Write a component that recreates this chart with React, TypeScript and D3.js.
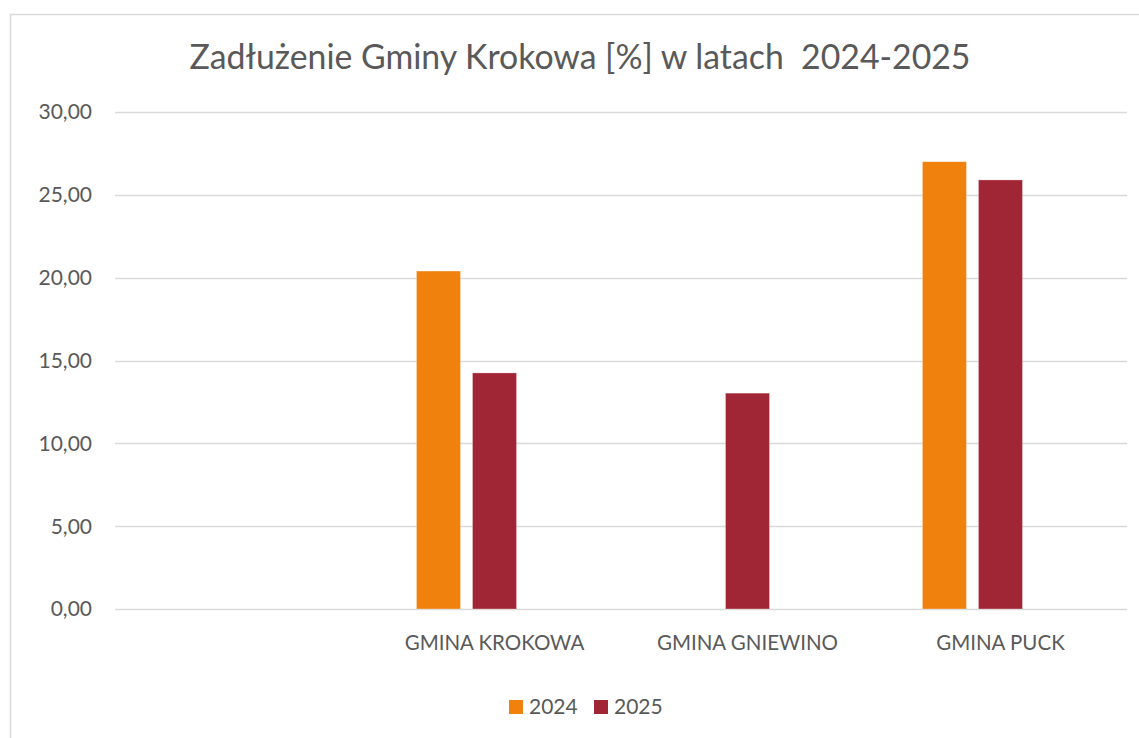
import React from 'react';
import * as d3 from 'd3';

// chart data
const categories = ['', 'GMINA KROKOWA', 'GMINA GNIEWINO', 'GMINA PUCK'];
const seriesNames = ['2024', '2025'];
const values2024: (number | null)[] = [null, 20.4, null, 27.0];
const values2025: (number | null)[] = [null, 14.25, 13.03, 25.9];
const seriesColors = ['#EF810C', '#A02636'];
const yTicks = [0, 5, 10, 15, 20, 25, 30];
const title = 'Zadłużenie Gminy Krokowa [%] w latach  2024-2025';

const W = 1139;
const H = 738;
const FONT = 'Lato, "Open Sans", sans-serif';
const TEXT = '#595959';
const GRID = '#d9d9d9';

export default function App() {
  const left = 115;
  const right = 1127;
  const top = 112;
  const bottom = 609;

  const x0 = d3.scaleBand<string>()
    .domain(categories)
    .range([left, right])
    .paddingInner(0.383)
    .paddingOuter(0.1917);

  // third slot is an empty series in the original workbook
  const x1 = d3.scaleBand<string>()
    .domain([...seriesNames, '_'])
    .range([0, x0.bandwidth()])
    .paddingInner(12 / 56);

  const y = d3.scaleLinear().domain([0, 30]).range([bottom, top]);
  const fmt = (v: number) => v.toFixed(2).replace('.', ',');

  const series = [values2024, values2025];

  return (
    <svg width={W} height={H} style={{ position: 'absolute', left: 0, top: 0, background: '#fff' }}>
      <rect x={10.5} y={14.5} width={W} height={H} fill="#fff" stroke={GRID} strokeWidth={1.5} />
      <text x={580} y={69} textAnchor="middle" fontFamily={FONT} fontSize={33.8} fill={TEXT} style={{ whiteSpace: 'pre' }}>{title}</text>

      {yTicks.map(t => (
        <g key={t}>
          <line x1={left} x2={right} y1={Math.round(y(t)) + 0.5} y2={Math.round(y(t)) + 0.5} stroke={GRID} strokeWidth={1.5} />
          <text x={92} y={y(t)} dy="0.35em" textAnchor="end" fontFamily={FONT} fontSize={21} fill={TEXT}>{fmt(t)}</text>
        </g>
      ))}

      {series.map((vals, si) => (
        <g key={si}>
          {vals.map((v, ci) => v == null ? null : (
            <rect
              key={ci}
              x={(x0(categories[ci]) ?? 0) + (x1(seriesNames[si]) ?? 0)}
              y={y(v)}
              width={x1.bandwidth()}
              height={y(0) - y(v)}
              fill={seriesColors[si]}
              stroke="#fff"
              strokeOpacity={0.4}
              strokeWidth={0.75}
            />
          ))}
        </g>
      ))}

      {categories.map(c => (
        <text key={c} x={(x0(c) ?? 0) + x0.bandwidth() / 2} y={650} textAnchor="middle" fontFamily={FONT} fontSize={20.5} fill={TEXT}>{c}</text>
      ))}

      {seriesNames.map((s, i) => (
        <g key={s} transform={`translate(${509 + i * 85},700)`}>
          <rect width={14} height={14} fill={seriesColors[i]} />
          <text x={20} y={7} dy="0.35em" fontFamily={FONT} fontSize={21} fill={TEXT}>{s}</text>
        </g>
      ))}
    </svg>
  );
}
